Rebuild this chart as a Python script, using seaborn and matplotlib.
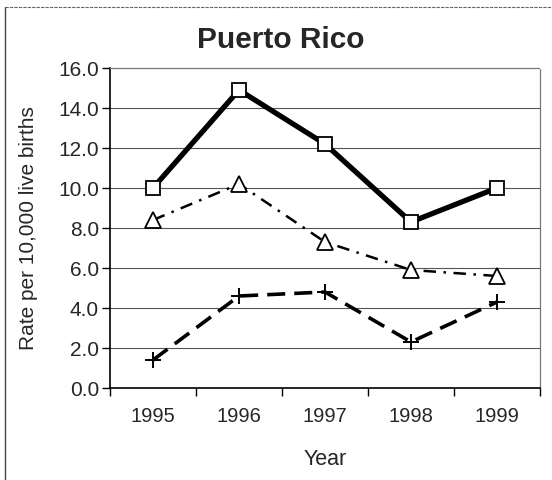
import matplotlib
matplotlib.use("Agg")
import matplotlib.pyplot as plt
import seaborn as sns
import pandas as pd
from matplotlib.lines import Line2D

years = ["1995", "1996", "1997", "1998", "1999"]
series_a = [10.0, 14.9, 12.2, 8.3, 10.0]   # squares, solid
series_b = [8.4, 10.2, 7.3, 5.9, 5.6]      # triangles, dash-dot
series_c = [1.4, 4.6, 4.8, 2.3, 4.3]       # plus, dashed
yticks = [0, 2, 4, 6, 8, 10, 12, 14, 16]

sns.set_theme(style="white")
plt.rcParams['font.family'] = ['Liberation Sans', 'DejaVu Sans']

fig = plt.figure(figsize=(5.52, 4.80), dpi=100)
ax = fig.add_axes([110/552, 1-388/480, 430/552, 320/480])

xpos = list(range(len(years)))
dfa = pd.DataFrame({"x": xpos, "y": series_a})
dfb = pd.DataFrame({"x": xpos, "y": series_b})
dfc = pd.DataFrame({"x": xpos, "y": series_c})

for v in yticks[1:-1]:
    ax.axhline(v, color="#555555", lw=0.8, zorder=0)

sns.lineplot(data=dfc, x="x", y="y", ax=ax, color="black", lw=2.6,
             linestyle=(0, (5, 2.5)), marker="+", markersize=12, mew=1.4,
             markeredgecolor="black", zorder=3)
sns.lineplot(data=dfb, x="x", y="y", ax=ax, color="black", lw=1.8,
             linestyle=(0, (5, 3, 1, 3)), marker="^", markersize=11,
             markerfacecolor="white", markeredgecolor="black", mew=1.3, zorder=3)
sns.lineplot(data=dfa, x="x", y="y", ax=ax, color="black", lw=3.8,
             marker="s", markersize=10, markerfacecolor="white",
             markeredgecolor="black", mew=1.3, zorder=4)

ax.set_xlim(-0.5, 4.5)
ax.set_ylim(0, 16)
ax.set_yticks(yticks)
ax.set_yticklabels([f"{v:.1f}" for v in yticks], fontsize=15)
ax.set_xticks(xpos)
ax.set_xticklabels(years, fontsize=14.5)
ax.set_xticks([i - 0.5 for i in range(len(years) + 1)], minor=True)
ax.tick_params(axis="x", which="major", length=0, pad=14)
ax.tick_params(axis="x", which="minor", length=6, width=1, color="black", direction="out", bottom=True)
ax.tick_params(axis="y", which="major", length=6, width=1, color="black", direction="out", left=True, pad=2)

for side in ["top", "right"]:
    ax.spines[side].set_color("#777777")
    ax.spines[side].set_linestyle((0, (1, 1)))
    ax.spines[side].set_linewidth(0.9)
for side in ["left", "bottom"]:
    ax.spines[side].set_color("black")
    ax.spines[side].set_linewidth(1.2)

ax.set_xlabel("Year", fontsize=15.5, labelpad=16)
ax.set_ylabel("Rate per 10,000 live births", fontsize=15)
ax.yaxis.set_label_coords(-(110 - 38) / 430, 0.5)
fig.text(281/552, 1-40/480, "Puerto Rico", ha="center", va="center",
         fontsize=21.5, fontweight="bold")

# outer frame (left and top edges visible in the reference)
fig.add_artist(Line2D([5.5/552, 5.5/552], [0, 1-7/480], transform=fig.transFigure,
                      color="#444444", lw=1.0))
fig.add_artist(Line2D([5.5/552, 1], [1-7/480, 1-7/480], transform=fig.transFigure,
                      color="#666666", lw=0.8, linestyle=(0, (3, 1))))

fig.savefig("out.png", dpi=100, facecolor="white")
